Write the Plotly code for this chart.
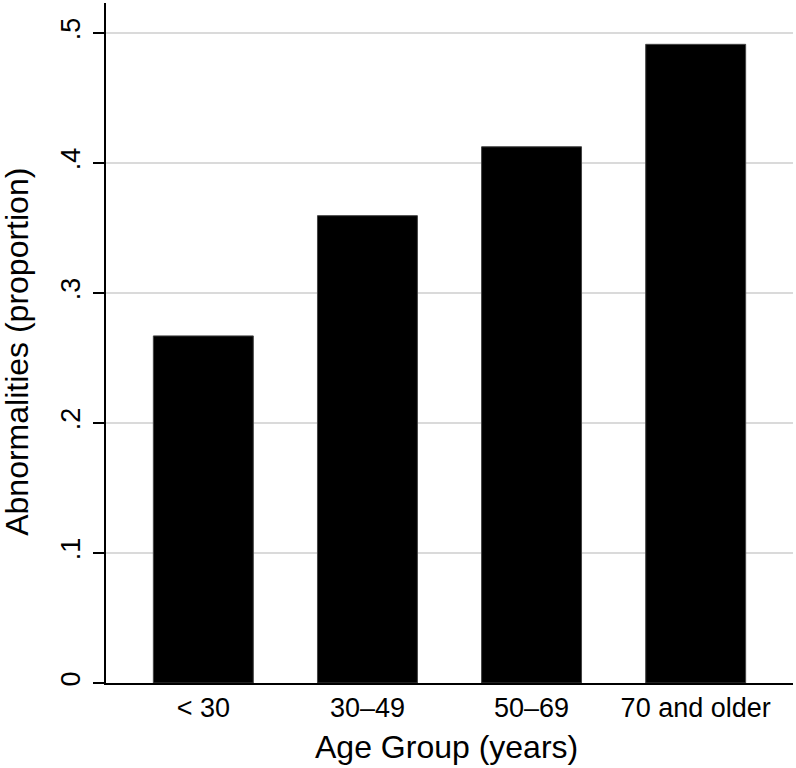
import plotly.graph_objects as go

categories = ["< 30", "30\u201349", "50\u201369", "70 and older"]
proportions = [0.267, 0.3595, 0.4125, 0.4913]
y_tick_values = [0, 0.1, 0.2, 0.3, 0.4, 0.5]
y_tick_labels = ["0", ".1", ".2", ".3", ".4", ".5"]
x_title = "Age Group (years)"
y_title = "Abnormalities (proportion)"

FONT = "Liberation Sans, Arial, Helvetica, sans-serif"

fig = go.Figure(
    go.Bar(
        x=list(range(len(categories))),
        y=proportions,
        width=0.609,
        marker=dict(color="black", line=dict(color="#444444", width=1)),
        hoverinfo="y",
    )
)

fig.update_layout(
    width=796,
    height=768,
    margin=dict(l=106, r=3, t=3, b=85),
    paper_bgcolor="white",
    plot_bgcolor="white",
    showlegend=False,
    font=dict(family=FONT, color="black"),
    xaxis=dict(
        range=[-0.593, 3.593],
        tickmode="array",
        tickvals=list(range(len(categories))),
        ticktext=categories,
        showgrid=False,
        zeroline=False,
        showline=True,
        linecolor="black",
        linewidth=1.5,
        ticks="",
        ticklabelstandoff=0,
        tickfont=dict(size=27, family=FONT, color="black"),
    ),
    yaxis=dict(
        range=[0, 0.5231],
        tickmode="array",
        tickvals=y_tick_values,
        ticktext=y_tick_labels,
        tickangle=-90,
        showgrid=True,
        gridcolor="#dadada",
        gridwidth=2,
        zeroline=False,
        showline=True,
        linecolor="black",
        linewidth=1.5,
        ticks="outside",
        ticklen=11,
        tickwidth=1.5,
        tickcolor="black",
        ticklabelstandoff=2,
        tickfont=dict(size=27, family=FONT, color="black"),
    ),
    annotations=[
        dict(
            text=x_title,
            xref="paper", yref="paper",
            x=0.495, y=-0.094,
            xanchor="center", yanchor="middle",
            showarrow=False,
            font=dict(size=32, family=FONT, color="black"),
        ),
        dict(
            text=y_title,
            xref="paper", yref="paper",
            x=-0.1296, y=0.487,
            xanchor="center", yanchor="middle",
            textangle=-90,
            showarrow=False,
            font=dict(size=32, family=FONT, color="black"),
        ),
    ],
)

fig.write_html(
    "out.html",
    config={"displayModeBar": False},
    post_script="document.body.style.margin='0';document.body.style.overflow='hidden';",
)
